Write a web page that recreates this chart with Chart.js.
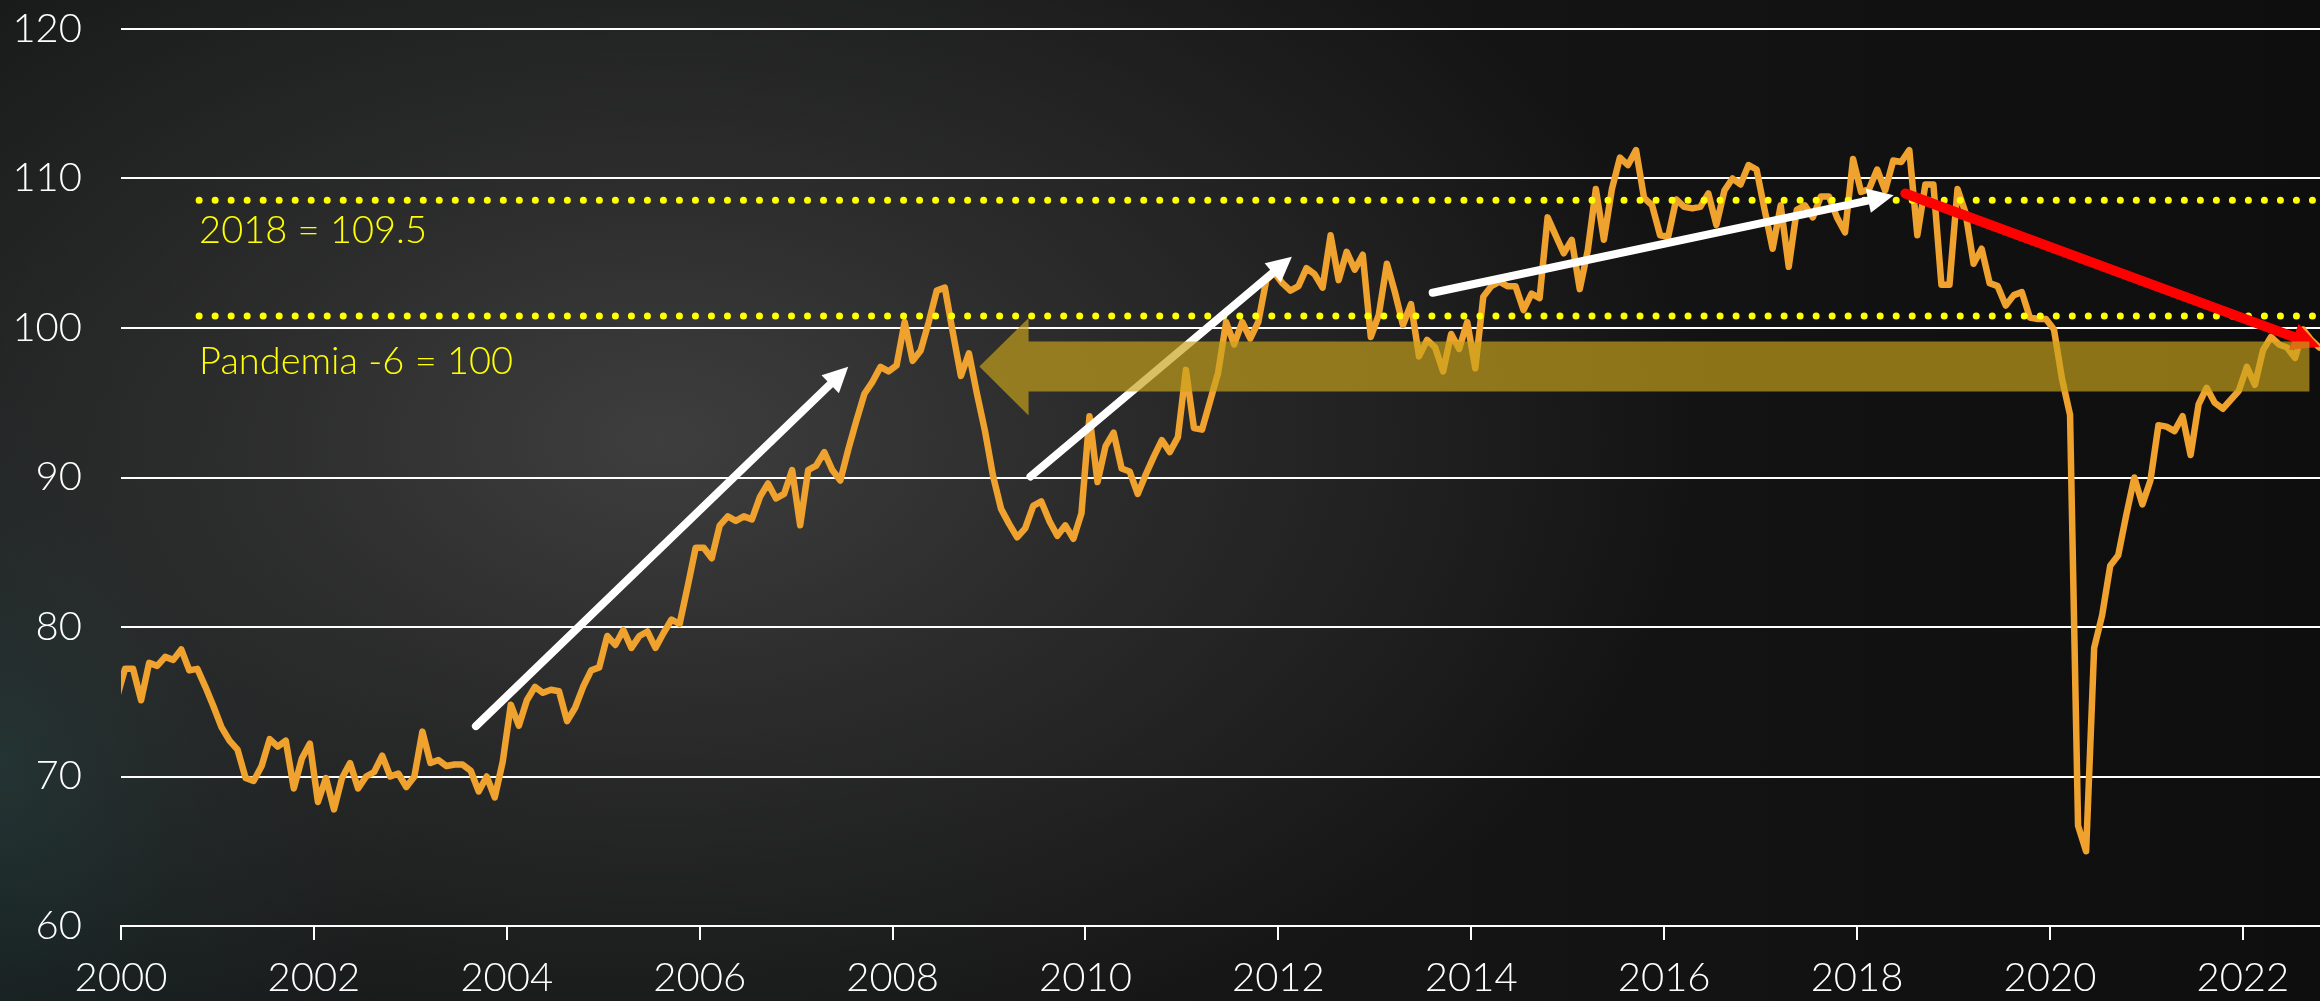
<!DOCTYPE html>
<html>
<head>
<meta charset="utf-8">
<script src="https://cdn.jsdelivr.net/npm/chart.js@4.4.0/dist/chart.umd.min.js"></script>
<style>
html, body { margin: 0; padding: 0; width: 2320px; height: 1001px; overflow: hidden; }
body {
  background:
    radial-gradient(ellipse 1050px 650px at 660px 440px, rgba(62,62,62,1) 0%, rgba(48,48,48,0.85) 40%, rgba(30,30,30,0) 100%),
    radial-gradient(ellipse 420px 520px at 0px 760px, rgba(34,62,62,0.75) 0%, rgba(30,45,45,0.4) 50%, rgba(20,20,20,0) 100%),
    linear-gradient(90deg, #161818 0%, #151515 60%, #0e0e0e 100%);
}
#wrap { position: relative; width: 2320px; height: 1001px; }
</style>
</head>
<body>
<div id="wrap"><canvas id="c"></canvas></div>
<script>
// ---- Data (monthly, Jan 2000 onwards) ----
const startYear = 2000;
const values = [
  75.3, 77.2, 77.2, 75.1, 77.6, 77.4, 78.0, 77.8, 78.5, 77.1, 77.2, 76.0,   // 2000
  74.7, 73.3, 72.4, 71.8, 69.9, 69.7, 70.7, 72.5, 72.0, 72.4, 69.2, 71.2,   // 2001
  72.2, 68.3, 69.9, 67.8, 69.9, 70.9, 69.2, 70.0, 70.3, 71.4, 70.0, 70.2,   // 2002
  69.3, 70.0, 73.0, 70.9, 71.1, 70.7, 70.8, 70.8, 70.4, 69.0, 70.0, 68.6,   // 2003
  71.0, 74.8, 73.4, 75.1, 76.0, 75.6, 75.8, 75.7, 73.7, 74.6, 76.0, 77.1,   // 2004
  77.3, 79.4, 78.8, 79.8, 78.6, 79.4, 79.7, 78.6, 79.6, 80.5, 80.2, 82.7,   // 2005
  85.3, 85.3, 84.6, 86.8, 87.4, 87.1, 87.4, 87.2, 88.7, 89.6, 88.6, 88.9,   // 2006
  90.5, 86.8, 90.5, 90.8, 91.7, 90.5, 89.8, 91.9, 93.8, 95.6, 96.4, 97.4,   // 2007
  97.1, 97.5, 100.4, 97.8, 98.5, 100.4, 102.5, 102.7, 99.7, 96.8, 98.3, 95.6, // 2008
  93.1, 90.1, 87.9, 86.9, 86.0, 86.6, 88.1, 88.4, 87.1, 86.1, 86.8, 85.9,   // 2009
  87.6, 94.1, 89.7, 92.1, 93.0, 90.6, 90.4, 88.9, 90.2, 91.4, 92.5, 91.7,   // 2010
  92.7, 97.2, 93.3, 93.2, 95.1, 97.0, 100.4, 98.9, 100.4, 99.3, 100.4, 103.2, // 2011
  103.7, 103.0, 102.5, 102.8, 104.0, 103.6, 102.7, 106.2, 103.2, 105.1, 103.9, 104.9, // 2012
  99.4, 100.9, 104.3, 102.4, 100.2, 101.6, 98.1, 99.2, 98.7, 97.1, 99.6, 98.6, // 2013
  100.4, 97.3, 102.1, 102.8, 103.1, 102.8, 102.8, 101.2, 102.3, 102.0, 107.4, 106.2, // 2014
  105.0, 105.9, 102.6, 105.2, 109.3, 105.9, 109.3, 111.4, 110.9, 111.9, 108.7, 108.2, // 2015
  106.2, 106.1, 108.6, 108.1, 108.0, 108.1, 109.0, 106.9, 109.2, 110.0, 109.6, 110.9, // 2016
  110.6, 107.9, 105.3, 108.2, 104.1, 107.9, 108.2, 107.4, 108.8, 108.8, 107.4, 106.4, // 2017
  111.3, 109.1, 109.3, 110.6, 109.2, 111.2, 111.1, 111.9, 106.2, 109.6, 109.6, 102.9, // 2018
  102.9, 109.3, 107.7, 104.3, 105.3, 103.0, 102.8, 101.5, 102.2, 102.4, 100.7, 100.6, // 2019
  100.6, 99.9, 96.6, 94.2, 66.7, 65.0, 78.6, 80.8, 84.1, 84.8, 87.5, 90.0,  // 2020
  88.2, 89.8, 93.5, 93.4, 93.1, 94.1, 91.5, 94.9, 96.0, 95.0, 94.6, 95.2,   // 2021
  95.8, 97.4, 96.2, 98.5, 99.4, 98.9, 98.7, 98.0, 99.9, 99.2, 98.7          // 2022
];
const xTickYears = [2000, 2002, 2004, 2006, 2008, 2010, 2012, 2014, 2016, 2018, 2020, 2022];
const yTickValues = [60, 70, 80, 90, 100, 110, 120];

// Reference levels (dotted yellow lines) and their captions
const refLevels = [108.55, 100.8];
const refLabels = ['2018 = 109.5', 'Pandemia -6 = 100'];

// ---- Annotation geometry (in axis units) ----
const refStartYear = 2000.81;
const refLabelPos = [{ x: 2000.81, y: 106.5 }, { x: 2000.81, y: 97.75 }];
const trendArrows = [
  { x0: 2003.68, y0: 73.37, x1: 2007.54, y1: 97.40, color: '#ffffff', width: 8, head: 25, half: 12.5 },
  { x0: 2009.43, y0: 90.07, x1: 2012.14, y1: 104.76, color: '#ffffff', width: 8, head: 25, half: 12.5 },
  { x0: 2013.60, y0: 102.36, x1: 2018.38, y1: 108.88, color: '#ffffff', width: 8, head: 26, half: 12.5 },
  { x0: 2018.50, y0: 109.00, x1: 2022.80, y1: 98.75, color: '#ff0000', width: 10, head: 28, half: 14 }
];
const bandArrow = { tipX: 2008.90, tipY: 97.42, baseX: 2009.41, headTop: 100.67, headBottom: 94.15,
                    bodyTop: 99.09, bodyBottom: 95.75, endX: 2022.69 };

const xMax = 2022.8;
const series = values.map((v, i) => ({ x: startYear + (i - 0.5) / 12, y: v }));
const refLines = refLevels.map(v => [{ x: refStartYear, y: v }, { x: xMax, y: v }]);

const FONT = 'Lato, "Noto Sans", "DejaVu Sans", sans-serif';

function drawArrow(ctx, x, y, a) {
  const sx = x.getPixelForValue(a.x0), sy = y.getPixelForValue(a.y0);
  const tx = x.getPixelForValue(a.x1), ty = y.getPixelForValue(a.y1);
  const dx = tx - sx, dy = ty - sy, len = Math.hypot(dx, dy);
  const ux = dx / len, uy = dy / len, px = -uy, py = ux;
  const bx = tx - ux * a.head, by = ty - uy * a.head;
  ctx.strokeStyle = a.color;
  ctx.fillStyle = a.color;
  ctx.lineWidth = a.width;
  ctx.lineCap = 'round';
  ctx.beginPath();
  ctx.moveTo(sx, sy);
  ctx.lineTo(bx + ux * 2, by + uy * 2);
  ctx.stroke();
  ctx.beginPath();
  ctx.moveTo(tx, ty);
  ctx.lineTo(bx + px * a.half, by + py * a.half);
  ctx.lineTo(bx - px * a.half, by - py * a.half);
  ctx.closePath();
  ctx.fill();
}

const overlay = {
  id: 'overlay',
  afterDatasetsDraw(chart) {
    const { ctx, chartArea, scales: { x, y } } = chart;
    ctx.save();
    ctx.beginPath();
    ctx.rect(chartArea.left, chartArea.top, chartArea.right - chartArea.left, chartArea.bottom - chartArea.top);
    ctx.clip();

    // captions
    ctx.font = '300 38px ' + FONT;
    ctx.fillStyle = '#ffff00';
    ctx.textAlign = 'left';
    ctx.textBaseline = 'middle';
    refLabels.forEach((t, i) => {
      ctx.fillText(t, x.getPixelForValue(refLabelPos[i].x), y.getPixelForValue(refLabelPos[i].y));
    });

    // trend arrows
    trendArrows.forEach(a => drawArrow(ctx, x, y, a));

    // translucent gold arrow pointing left
    const b = bandArrow;
    ctx.fillStyle = 'rgba(200,162,28,0.68)';
    ctx.beginPath();
    ctx.moveTo(x.getPixelForValue(b.tipX), y.getPixelForValue(b.tipY));
    ctx.lineTo(x.getPixelForValue(b.baseX), y.getPixelForValue(b.headTop));
    ctx.lineTo(x.getPixelForValue(b.baseX), y.getPixelForValue(b.bodyTop));
    ctx.lineTo(x.getPixelForValue(b.endX), y.getPixelForValue(b.bodyTop));
    ctx.lineTo(x.getPixelForValue(b.endX), y.getPixelForValue(b.bodyBottom));
    ctx.lineTo(x.getPixelForValue(b.baseX), y.getPixelForValue(b.bodyBottom));
    ctx.lineTo(x.getPixelForValue(b.baseX), y.getPixelForValue(b.headBottom));
    ctx.closePath();
    ctx.fill();
    ctx.restore();
  }
};

new Chart(document.getElementById('c'), {
  type: 'line',
  data: {
    datasets: [
      { data: refLines[0], borderColor: '#ffff00', borderWidth: 7, borderDash: [0.01, 16], borderCapStyle: 'round',
        pointRadius: 0, order: 0 },
      { data: refLines[1], borderColor: '#ffff00', borderWidth: 7, borderDash: [0.01, 16], borderCapStyle: 'round',
        pointRadius: 0, order: 0 },
      { data: series, borderColor: '#f0a22f', borderWidth: 6.5, pointRadius: 0, tension: 0,
        borderJoinStyle: 'round', borderCapStyle: 'round', order: 1 }
    ]
  },
  options: {
    responsive: true,
    maintainAspectRatio: false,
    animation: false,
    events: [],
    layout: { padding: { top: 29, right: 0, left: 0, bottom: 0 } },
    plugins: { legend: { display: false }, tooltip: { enabled: false } },
    scales: {
      x: {
        type: 'linear', min: 2000, max: xMax,
        afterBuildTicks: s => { s.ticks = xTickYears.map(v => ({ value: v })); },
        afterFit: s => { s.height = 75; s.paddingLeft = 0; s.paddingRight = 0; },
        ticks: { color: '#ffffff', font: { family: FONT, size: 40, weight: '300' }, padding: 14,
                 maxRotation: 0, autoSkip: false, callback: v => String(v) },
        grid: { drawOnChartArea: false, drawTicks: true, tickLength: 14, color: '#ffffff', lineWidth: 2 },
        border: { display: true, color: '#ffffff', width: 2 }
      },
      y: {
        min: 60, max: 120,
        afterBuildTicks: s => { s.ticks = yTickValues.map(v => ({ value: v })); },
        afterFit: s => { s.width = 121; s.paddingTop = 0; s.paddingBottom = 0; },
        ticks: { color: '#ffffff', font: { family: FONT, size: 40, weight: '300' }, padding: 39 },
        grid: { color: '#ffffff', lineWidth: 2, drawTicks: false },
        border: { display: false }
      }
    }
  },
  plugins: [overlay]
});
</script>
</body>
</html>
